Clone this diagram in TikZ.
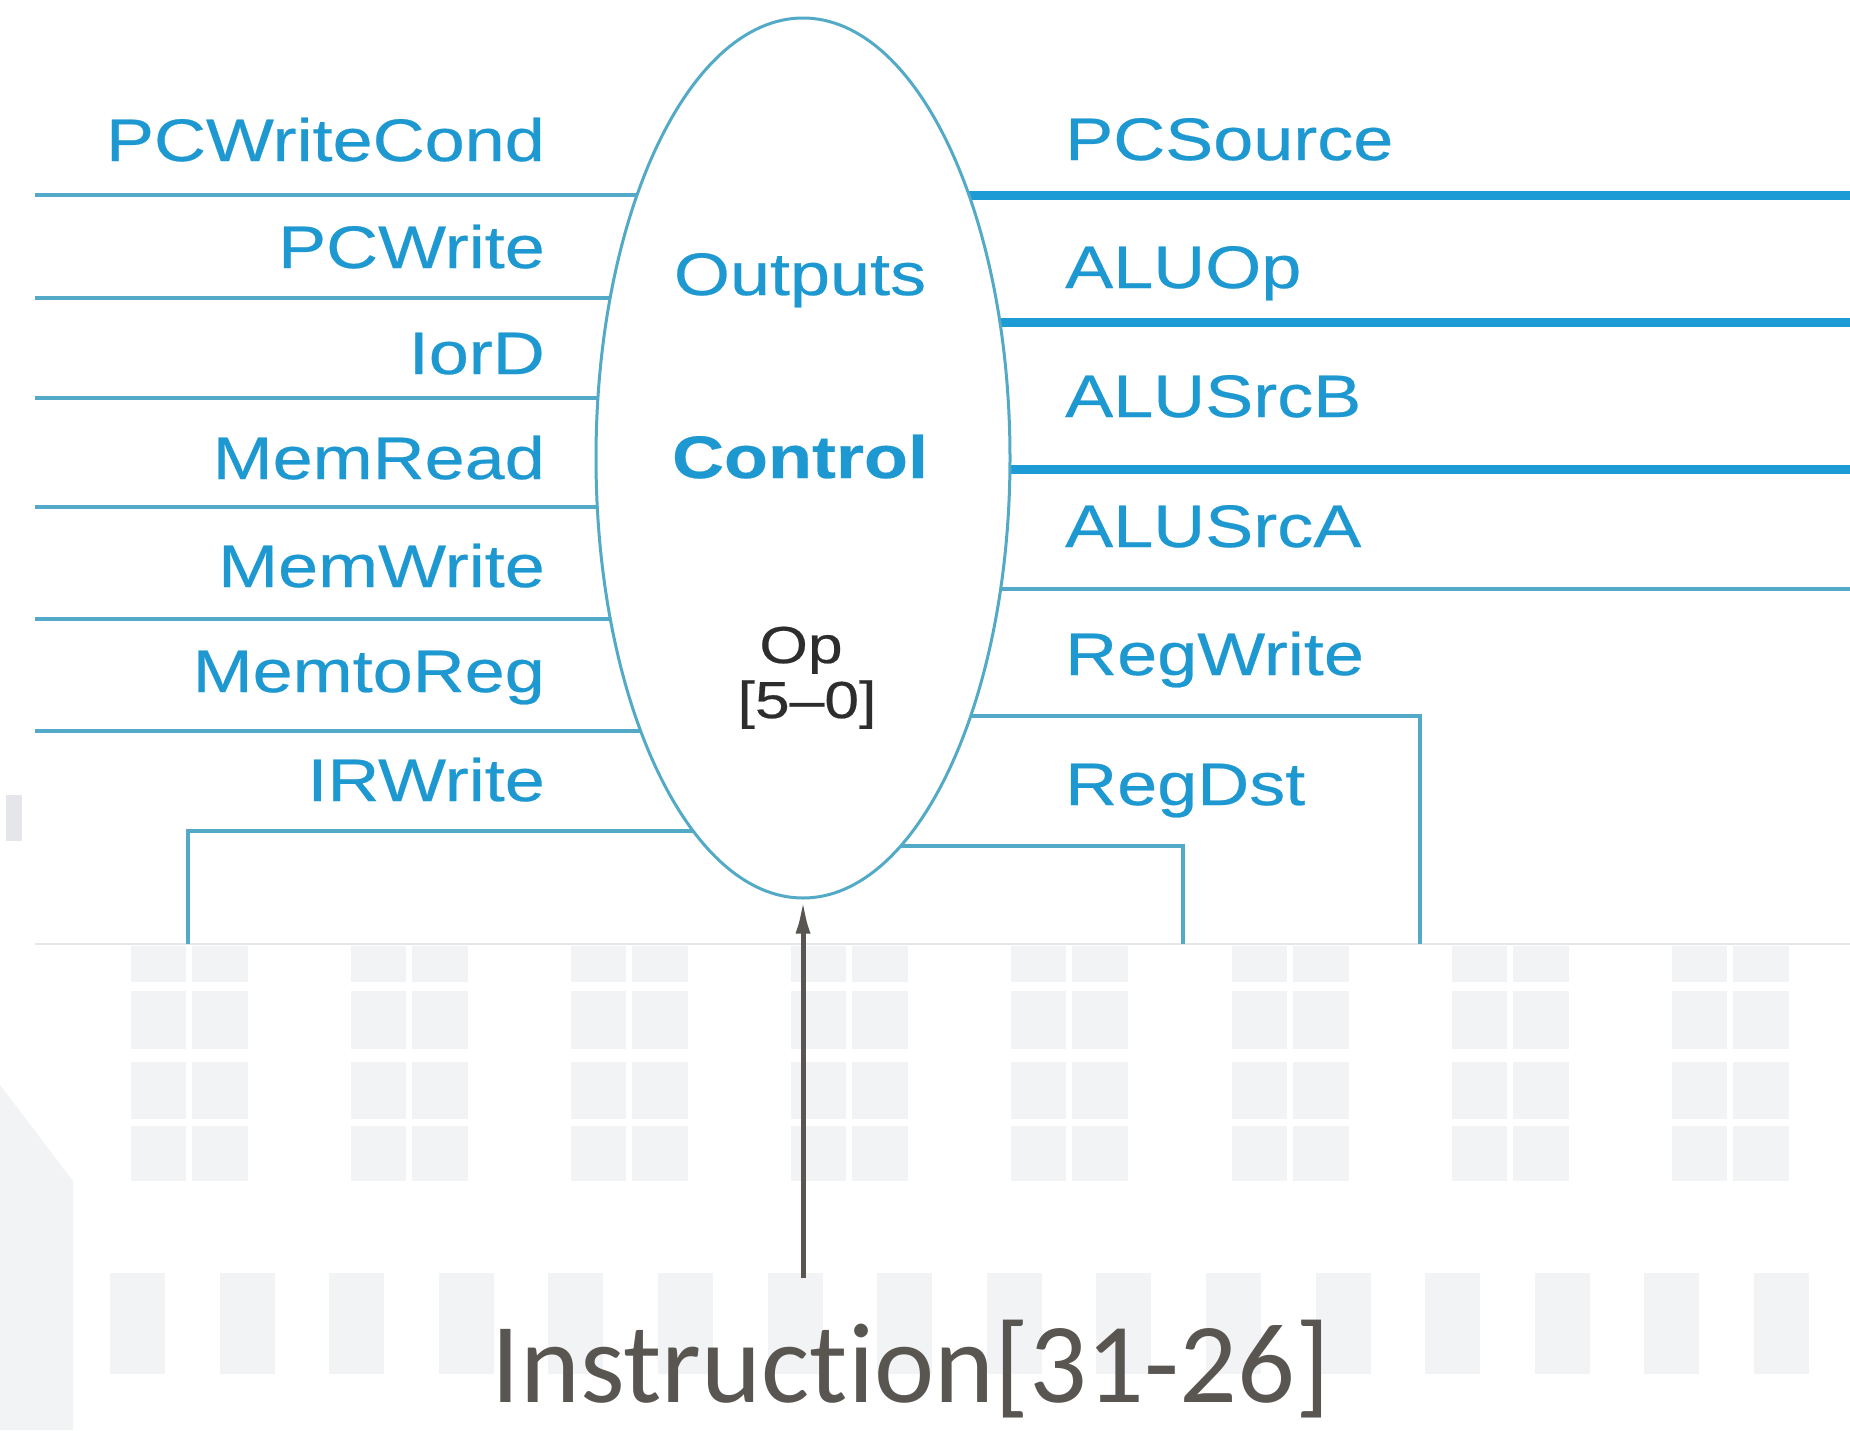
\documentclass[tikz,border=0pt]{standalone}
\usepackage{fontspec}
\setmainfont{Liberation Sans}
\newfontfamily\sigfont[FakeStretch=1.2,FakeBold=0.4]{Liberation Sans}
\newfontfamily\capfont[Ligatures=NoCommon]{Carlito}
\usetikzlibrary{shapes.geometric,arrows.meta,backgrounds}
\definecolor{sigblue}{RGB}{30,152,208}
\definecolor{wireteal}{RGB}{82,170,198}
\definecolor{wirebus}{RGB}{28,155,212}
\definecolor{tilegray}{RGB}{242,243,245}
\definecolor{edgegray}{RGB}{228,230,234}
\definecolor{inkgray}{RGB}{89,86,82}
\definecolor{opgray}{RGB}{45,45,45}

\begin{document}
\begin{tikzpicture}[x=1pt,y=-1pt,
  siglabel/.style={font=\sigfont\fontsize{60}{70}\selectfont, text=sigblue, inner sep=0pt},
  boldlabel/.style={font=\sigfont\bfseries\fontsize{60}{70}\selectfont, text=sigblue, inner sep=0pt},
  oplabel/.style={font=\sigfont\fontsize{52}{60}\selectfont, text=opgray, inner sep=0pt},
  thinwire/.style={draw=wireteal, line width=4pt},
  buswire/.style={draw=wirebus, line width=9pt},
  tile/.style={fill=tilegray, draw=none},
  ctrlunit/.style={ellipse, draw=wireteal, line width=3pt, fill=white,
    minimum width=414pt, minimum height=880pt, inner sep=0pt}]

\useasboundingbox (0,0) rectangle (1850,1430);

% control unit
\node[ctrlunit] (ctrl) at (803,458) {};

% free ends and corners of the signal wires
\coordinate (wPCWC) at (35,195);
\coordinate (wPCW)  at (35,298);
\coordinate (wIorD) at (35,398);
\coordinate (wMR)   at (35,507);
\coordinate (wMW)   at (35,619);
\coordinate (wM2R)  at (35,731);
\coordinate (wIRW)  at (188,944);
\coordinate (kIRW)  at (188,831);
\coordinate (wPCS)  at (1850,195);
\coordinate (wALUOp) at (1850,322);
\coordinate (wSrcB) at (1850,469);
\coordinate (wSrcA) at (1850,589);
\coordinate (wRegW) at (1420,944);
\coordinate (kRegW) at (1420,716);
\coordinate (wRegD) at (1183,944);
\coordinate (kRegD) at (1183,846);

\begin{scope}[on background layer]
  \fill[white] (0,0) rectangle (1850,1430);
  % slide backdrop tiles
  \foreach \i in {0,...,7} {
    \pgfmathsetmacro{\xa}{131+220.1*\i}
    \foreach \ya/\yb in {946/982, 991/1049, 1062/1119, 1126/1181} {
      \fill[tile] (\xa,\ya) rectangle (\xa+55,\yb);
      \fill[tile] (\xa+61,\ya) rectangle (\xa+117,\yb);
    }
  }
  \foreach \i in {0,...,15} {
    \fill[tile] ({110+109.6*\i},1273) rectangle ({165+109.6*\i},1374);
  }
  \fill[tile] (0,1085) -- (73,1181) -- (73,1430) -- (0,1430) -- cycle;
  \fill[fill=edgegray] (6,795) rectangle (22,841);
  \draw[edgegray, line width=2pt] (35,944) -- (1850,944);

  % control outputs, left side
  \draw[thinwire] (wPCWC) -- (wPCWC -| ctrl.center);
  \draw[thinwire] (wPCW)  -- (wPCW -| ctrl.center);
  \draw[thinwire] (wIorD) -- (wIorD -| ctrl.center);
  \draw[thinwire] (wMR)   -- (wMR -| ctrl.center);
  \draw[thinwire] (wMW)   -- (wMW -| ctrl.center);
  \draw[thinwire] (wM2R)  -- (wM2R -| ctrl.center);
  \draw[thinwire] (wIRW) -- (kIRW) -- (kIRW -| ctrl.center);
  % control outputs, right side
  \draw[buswire]  (wPCS -| ctrl.center) -- (wPCS);
  \draw[buswire]  (wALUOp -| ctrl.center) -- (wALUOp);
  \draw[buswire]  (wSrcB -| ctrl.center) -- (wSrcB);
  \draw[thinwire] (wSrcA -| ctrl.center) -- (wSrcA);
  \draw[thinwire] (kRegW -| ctrl.center) -- (kRegW) -- (wRegW);
  \draw[thinwire] (kRegD -| ctrl.center) -- (kRegD) -- (wRegD);
\end{scope}

% labels inside the control unit
\node[siglabel, anchor=base] (outs) at (800,295) {Outputs};
\node[boldlabel, anchor=base] (ctl) at (800,478) {Control};
\node[oplabel, anchor=base] (op) at (801,663) {Op};
\node[oplabel, anchor=base] (opbits) at (807,718) {[5–0]};

% signal names, left
\node[siglabel, anchor=base east] (lPCWC) at (545,161) {PCWriteCond};
\node[siglabel, anchor=base east] (lPCW)  at (545,268) {PCWrite};
\node[siglabel, anchor=base east] (lIorD) at (545,374) {IorD};
\node[siglabel, anchor=base east] (lMR)   at (545,479) {MemRead};
\node[siglabel, anchor=base east] (lMW)   at (545,587) {MemWrite};
\node[siglabel, anchor=base east] (lM2R)  at (545,692) {MemtoReg};
\node[siglabel, anchor=base east] (lIRW)  at (545,801) {IRWrite};

% signal names, right
\node[siglabel, anchor=base west] (lPCS)   at (1065,160) {PCSource};
\node[siglabel, anchor=base west] (lALUOp) at (1065,288) {ALUOp};
\node[siglabel, anchor=base west] (lSrcB)  at (1065,417) {ALUSrcB};
\node[siglabel, anchor=base west] (lSrcA)  at (1065,547) {ALUSrcA};
\node[siglabel, anchor=base west] (lRegW)  at (1065,675) {RegWrite};
\node[siglabel, anchor=base west] (lRegD)  at (1065,805) {RegDst};

% opcode input
\node[font=\capfont\fontsize{114}{130}\selectfont, text=inkgray, anchor=base, inner sep=0pt]
  (instr) at (911,1402) {Instruction[31-26]};
\coordinate (instrtop) at (803,1278);
\draw[inkgray, line width=5pt, -{Latex[length=34pt,width=15pt]}] (instrtop) -- (ctrl.south);
\end{tikzpicture}
\end{document}
